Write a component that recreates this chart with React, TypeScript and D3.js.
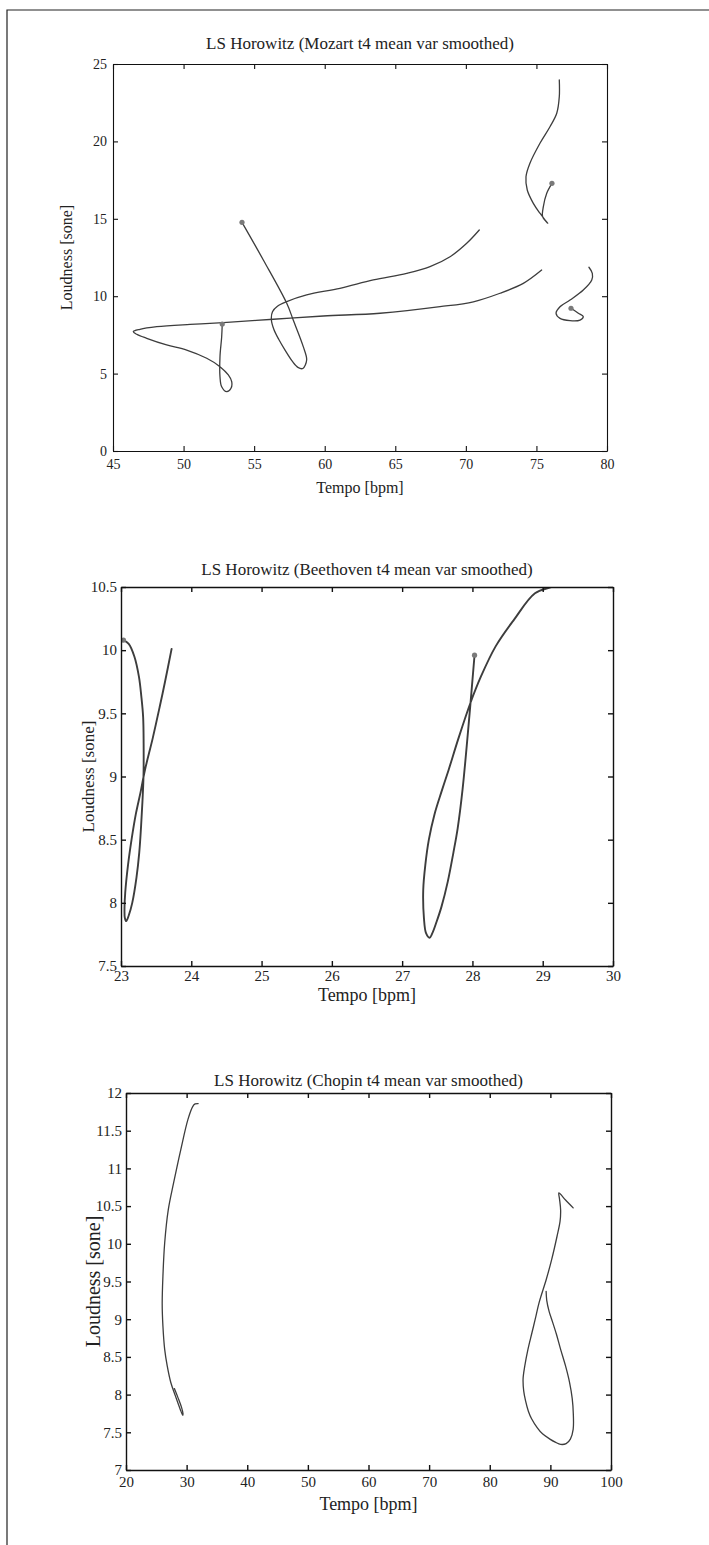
import * as d3 from 'd3'
import { useEffect, useRef } from 'react'

type Pt = [number, number]

// ---- Mozart panel (tempo [bpm], loudness [sone]) ----
const mozartTempoTicks = [45, 50, 55, 60, 65, 70, 75, 80]
const mozartLoudTicks = [0, 5, 10, 15, 20, 25]
const mozartA: Pt[] = [
  [54.14, 14.77], [55.65, 12.34], [57.31, 9.54], [57.77, 8.46], [58.48, 6.74], [58.72, 5.88],
  [58.45, 5.33], [58.1, 5.4], [57.7, 5.8], [57.2, 6.5], [56.75, 7.2], [56.4, 7.85],
  [56.22, 8.5], [56.3, 9.0], [56.65, 9.35], [57.31, 9.65], [58.72, 10.08], [61.08, 10.51],
  [63.44, 11.05], [65.81, 11.48], [67.46, 11.91], [68.88, 12.55], [70.06, 13.42], [70.95, 14.28],
]
const mozartB: Pt[] = [
  [52.74, 8.2], [52.7, 7.38], [52.58, 6.09], [52.58, 4.8], [52.7, 4.15], [53.06, 3.83],
  [53.36, 4.05], [53.41, 4.48], [53.17, 4.91], [52.58, 5.45], [51.64, 5.99], [50.22, 6.52],
  [48.8, 6.85], [47.39, 7.28], [46.68, 7.54], [46.44, 7.71], [46.91, 7.86], [48.1, 8.03],
  [50.46, 8.18], [52.81, 8.29], [56.36, 8.51], [59.9, 8.72], [63.92, 8.9], [68.17, 9.32],
  [70.53, 9.64], [72.42, 10.19], [74.07, 10.83], [75.37, 11.69],
]
const mozartC: Pt[] = [
  [76.1, 17.29], [75.73, 16.65], [75.49, 15.78], [75.44, 15.14], [75.8, 14.71], [75.25, 15.36],
  [74.78, 16.0], [74.35, 16.86], [74.26, 17.72], [74.54, 18.59], [75.25, 19.88], [75.96, 20.95],
  [76.44, 21.82], [76.62, 22.89], [76.62, 23.97],
]
const mozartD: Pt[] = [
  [77.45, 9.22], [77.97, 8.9], [78.32, 8.68], [78.09, 8.46], [77.38, 8.42], [76.67, 8.57],
  [76.39, 8.9], [76.67, 9.32], [77.38, 9.75], [78.32, 10.4], [78.92, 11.05], [78.96, 11.48],
  [78.72, 11.87],
]

// ---- Beethoven panel ----
const beethovenTempoTicks = [23, 24, 25, 26, 27, 28, 29, 30]
const beethovenLoudTicks = [7.5, 8, 8.5, 9, 9.5, 10, 10.5]
const beethovenA: Pt[] = [
  [23.035, 10.08], [23.11, 10.05], [23.19, 9.95], [23.255, 9.79], [23.29, 9.63], [23.315, 9.47],
  [23.322, 9.26], [23.32, 9.0], [23.305, 8.8], [23.285, 8.6], [23.26, 8.4], [23.22, 8.2],
  [23.16, 8.0], [23.11, 7.9], [23.075, 7.855], [23.055, 7.88], [23.05, 7.96], [23.06, 8.08],
  [23.1, 8.3], [23.15, 8.5], [23.21, 8.7], [23.28, 8.88], [23.34, 9.05], [23.45, 9.3],
  [23.55, 9.55], [23.63, 9.76], [23.72, 10.01],
]
const beethovenB: Pt[] = [
  [28.03, 9.96], [27.96, 9.5], [27.86, 8.9], [27.79, 8.59], [27.73, 8.4], [27.65, 8.17],
  [27.56, 7.97], [27.49, 7.85], [27.43, 7.76], [27.39, 7.724], [27.34, 7.76], [27.31, 7.88],
  [27.3, 8.1], [27.33, 8.3], [27.38, 8.5], [27.46, 8.7], [27.56, 8.88], [27.66, 9.05],
  [27.8, 9.3], [27.97, 9.58], [28.12, 9.79], [28.33, 10.03], [28.59, 10.24], [28.89, 10.45],
  [29.12, 10.5], [29.35, 10.55],
]

// ---- Chopin panel ----
const chopinTempoTicks = [20, 30, 40, 50, 60, 70, 80, 90, 100]
const chopinLoudTicks = [7, 7.5, 8, 8.5, 9, 9.5, 10, 10.5, 11, 11.5, 12]
const chopinA: Pt[] = [
  [31.9, 11.86], [31.4, 11.855], [31.0, 11.82], [30.22, 11.65], [29.04, 11.25], [27.86, 10.81],
  [26.97, 10.45], [26.38, 10.01], [26.09, 9.57], [25.97, 9.2], [26.09, 8.91], [26.38, 8.6],
  [26.8, 8.38], [27.39, 8.16], [28.16, 7.98], [28.92, 7.81], [29.36, 7.725], [29.4, 7.75],
  [29.16, 7.83], [28.57, 7.96], [27.98, 8.08],
]
const chopinB: Pt[] = [
  [89.3, 9.37], [89.4, 9.25], [89.8, 9.1], [90.21, 9.0], [91.0, 8.8], [91.69, 8.6],
  [92.5, 8.38], [93.17, 8.16], [93.6, 7.95], [93.78, 7.75], [93.76, 7.54], [93.3, 7.41],
  [92.6, 7.35], [91.69, 7.34], [90.8, 7.37], [89.92, 7.41], [88.7, 7.48], [87.85, 7.56],
  [86.9, 7.68], [86.37, 7.78], [85.9, 7.92], [85.6, 8.05], [85.5, 8.21], [85.78, 8.38],
  [86.3, 8.6], [86.96, 8.82], [87.5, 9.0], [88.14, 9.22], [89.33, 9.53], [90.21, 9.79],
  [91.1, 10.1], [91.6, 10.3], [91.69, 10.45], [91.5, 10.6], [91.4, 10.675], [92.5, 10.58],
  [93.76, 10.476],
]

const FONT = '"Liberation Serif", "Times New Roman", serif'

interface Panel {
  id: string
  title: string
  xDomain: [number, number]
  yDomain: [number, number]
  xTicks: number[]
  yTicks: number[]
  series: Pt[][]
  dots: boolean
  box: { left: number; right: number; top: number; bottom: number }
  titleY: number
  xLabelY: number
  yLabelX: number
  tickFont: number
  xLabelFont: number
  yLabelFont: number
  xPad: number
  yPad: number
  lineWidth: number
  axisWidth: number
}

const panels: Panel[] = [
  {
    id: 'mozart',
    title: 'LS Horowitz (Mozart t4 mean var smoothed)',
    xDomain: [45, 80],
    yDomain: [0, 25],
    xTicks: mozartTempoTicks,
    yTicks: mozartLoudTicks,
    series: [mozartA, mozartB, mozartC, mozartD],
    dots: true,
    box: { left: 113, right: 607, top: 64, bottom: 451 },
    titleY: 49,
    xLabelY: 493,
    yLabelX: 66,
    tickFont: 14,
    xLabelFont: 16,
    yLabelFont: 16,
    xPad: 8,
    yPad: 6,
    lineWidth: 1.3,
    axisWidth: 1.1,
  },
  {
    id: 'beethoven',
    title: 'LS Horowitz (Beethoven t4 mean var smoothed)',
    xDomain: [23, 30],
    yDomain: [7.5, 10.5],
    xTicks: beethovenTempoTicks,
    yTicks: beethovenLoudTicks,
    series: [beethovenA, beethovenB],
    dots: true,
    box: { left: 121, right: 613, top: 587, bottom: 966 },
    titleY: 575,
    xLabelY: 1001,
    yLabelX: 88,
    tickFont: 15,
    xLabelFont: 18,
    yLabelFont: 17,
    xPad: 4,
    yPad: 4,
    lineWidth: 1.9,
    axisWidth: 1.4,
  },
  {
    id: 'chopin',
    title: 'LS Horowitz (Chopin t4 mean var smoothed)',
    xDomain: [20, 100],
    yDomain: [7, 12],
    xTicks: chopinTempoTicks,
    yTicks: chopinLoudTicks,
    series: [chopinA, chopinB],
    dots: false,
    box: { left: 126, right: 611, top: 1093, bottom: 1470 },
    titleY: 1086,
    xLabelY: 1510,
    yLabelX: 93,
    tickFont: 15,
    xLabelFont: 18,
    yLabelFont: 20,
    xPad: 6,
    yPad: 4,
    lineWidth: 1.3,
    axisWidth: 1.4,
  },
]

export default function App() {
  const svgRef = useRef<SVGSVGElement>(null)

  useEffect(() => {
    if (!svgRef.current) return
    const svg = d3.select(svgRef.current)
    svg.selectAll('*').remove()

    // page frame (cut by the right and bottom edges)
    svg
      .append('path')
      .attr('d', 'M7,1545V10H709')
      .attr('fill', 'none')
      .attr('stroke', '#222')
      .attr('stroke-width', 1.2)

    const defs = svg.append('defs')

    panels.forEach((p) => {
      const { left, right, top, bottom } = p.box
      const x = d3.scaleLinear().domain(p.xDomain).range([left, right])
      const y = d3.scaleLinear().domain(p.yDomain).range([bottom, top])

      defs
        .append('clipPath')
        .attr('id', `clip-${p.id}`)
        .append('rect')
        .attr('x', left)
        .attr('y', top)
        .attr('width', right - left)
        .attr('height', bottom - top)

      const g = svg.append('g')

      // curves
      const line = d3
        .line<Pt>()
        .x((d) => x(d[0]))
        .y((d) => y(d[1]))
        .curve(d3.curveCatmullRom.alpha(0.5))

      const plot = g.append('g').attr('clip-path', `url(#clip-${p.id})`)
      p.series.forEach((s) => {
        plot
          .append('path')
          .datum(s)
          .attr('fill', 'none')
          .attr('stroke', '#3d3d3d')
          .attr('stroke-width', p.lineWidth)
          .attr('stroke-linejoin', 'round')
          .attr('stroke-linecap', 'round')
          .attr('d', line)
      })

      if (p.dots) {
        plot
          .selectAll('circle')
          .data(p.series.map((s) => s[0]))
          .enter()
          .append('circle')
          .attr('cx', (d) => x(d[0]))
          .attr('cy', (d) => y(d[1]))
          .attr('r', 2.6)
          .attr('fill', '#7a7a7a')
      }

      // axes, MATLAB style box with inward ticks
      const fmt = (d: d3.NumberValue) => String(d)
      const styleAxis = (sel: d3.Selection<SVGGElement, unknown, null, undefined>) => {
        sel.attr('font-family', FONT).attr('font-size', p.tickFont)
        sel.selectAll('path').attr('stroke', '#111').attr('stroke-width', p.axisWidth)
        sel.selectAll('line').attr('stroke', '#111').attr('stroke-width', p.axisWidth)
        sel.selectAll('text').attr('fill', '#222')
      }

      g.append('g')
        .attr('transform', `translate(0,${bottom})`)
        .call(d3.axisBottom(x).tickValues(p.xTicks).tickSize(-5).tickSizeOuter(0).tickPadding(p.xPad).tickFormat(fmt))
        .call(styleAxis)
      g.append('g')
        .attr('transform', `translate(0,${top})`)
        .call(d3.axisTop(x).tickValues(p.xTicks).tickSize(-5).tickSizeOuter(0).tickFormat(() => ''))
        .call(styleAxis)
      g.append('g')
        .attr('transform', `translate(${left},0)`)
        .call(d3.axisLeft(y).tickValues(p.yTicks).tickSize(-5).tickSizeOuter(0).tickPadding(p.yPad).tickFormat(fmt))
        .call(styleAxis)
      g.append('g')
        .attr('transform', `translate(${right},0)`)
        .call(d3.axisRight(y).tickValues(p.yTicks).tickSize(-5).tickSizeOuter(0).tickFormat(() => ''))
        .call(styleAxis)

      // title and labels
      g.append('text')
        .attr('x', (left + right) / 2)
        .attr('y', p.titleY)
        .attr('text-anchor', 'middle')
        .attr('font-family', FONT)
        .attr('font-size', 17)
        .attr('fill', '#222')
        .text(p.title)

      g.append('text')
        .attr('x', (left + right) / 2)
        .attr('y', p.xLabelY)
        .attr('text-anchor', 'middle')
        .attr('font-family', FONT)
        .attr('font-size', p.xLabelFont)
        .attr('fill', '#222')
        .text('Tempo [bpm]')

      g.append('text')
        .attr('transform', `translate(${p.yLabelX},${(top + bottom) / 2}) rotate(-90)`)
        .attr('dy', '0.35em')
        .attr('text-anchor', 'middle')
        .attr('font-family', FONT)
        .attr('font-size', p.yLabelFont)
        .attr('fill', '#222')
        .text('Loudness [sone]')
    })
  }, [])

  return (
    <div style={{ position: 'absolute', left: 0, top: 0, background: '#fff' }}>
      <svg ref={svgRef} width={709} height={1545} style={{ display: 'block' }} />
    </div>
  )
}
